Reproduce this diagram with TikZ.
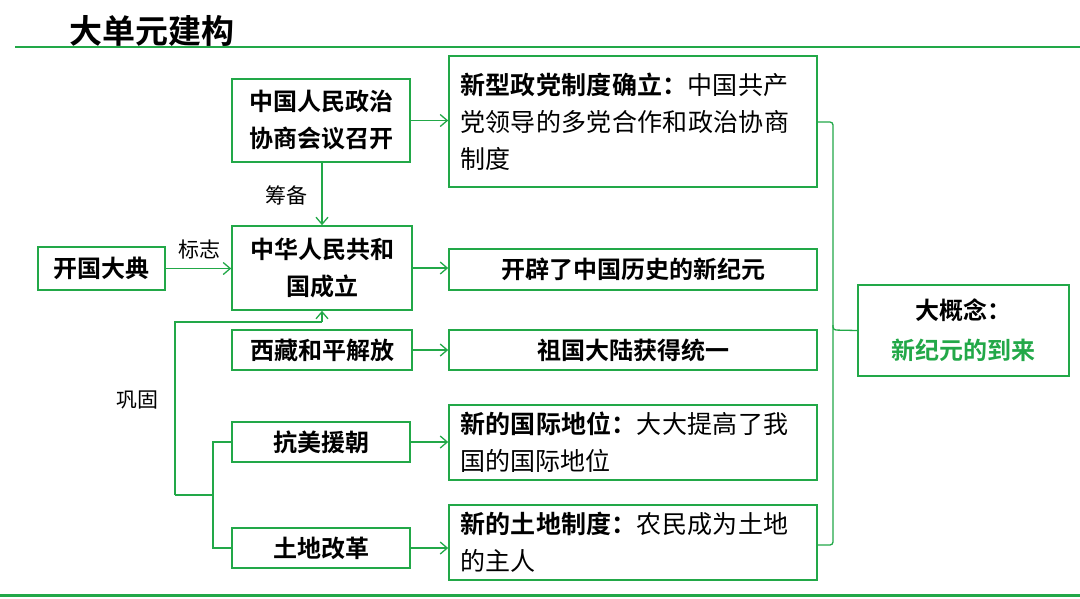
\documentclass[tikz,border=0pt]{standalone}
\usepackage{fontspec}
\usetikzlibrary{arrows.meta}
\XeTeXlinebreaklocale "zh"
\XeTeXlinebreakskip=0pt plus 1pt
\newfontfamily\cjk{Noto Sans CJK SC}
\newfontfamily\cjkb{Noto Sans CJK SC Bold}
\definecolor{gr}{RGB}{34,168,72}
\begin{document}
\begin{tikzpicture}[x=1pt,y=-1pt,
  bx/.style={draw=gr,line width=1.6pt,font=\fontsize{24}{37}\cjkb,align=center,inner sep=0pt},
  rb/.style={draw=gr,line width=1.6pt,font=\fontsize{25}{37}\cjk,align=left,inner sep=0pt,text width=346pt},
  ln/.style={draw=gr,line width=1.3pt},
  ar/.style={ln,-{Straight Barb[length=7pt,width=12pt]}},
  lab/.style={font=\fontsize{21}{24}\cjk}]
\useasboundingbox (0,0) rectangle (1080,598);
\node[font=\fontsize{33}{36}\cjkb,anchor=west] (title) at (66,31) {大单元建构};
\draw[gr,line width=1.5pt] (15,47) -- (1080,47);
\draw[gr,line width=3pt] (0,595) -- (1080,595);
% left boxes
\node[bx,minimum width=127pt,minimum height=43pt] (kg) at (101.5,268.5) {开国大典};
\node[bx,minimum width=178pt,minimum height=83pt] (zx) at (321,120.5) {中国人民政治\\协商会议召开};
\node[bx,minimum width=180pt,minimum height=84pt] (zh) at (322,268) {中华人民共和\\国成立};
\node[bx,minimum width=180pt,minimum height=40pt] (xz) at (322,350) {西藏和平解放};
\node[bx,minimum width=178pt,minimum height=40pt] (km) at (321,442) {抗美援朝};
\node[bx,minimum width=178pt,minimum height=40pt] (td) at (321,548) {土地改革};
% right boxes
\node[rb,minimum width=368pt,minimum height=131pt] (r1) at (633,121.5) {{\cjkb 新型政党制度确立：}中国共产党领导的多党合作和政治协商制度};
\node[bx,minimum width=368pt,minimum height=41pt] (r2) at (633,269.5) {开辟了中国历史的新纪元};
\node[bx,minimum width=368pt,minimum height=40pt] (r3) at (633,350) {祖国大陆获得统一};
\node[rb,minimum width=368pt,minimum height=75pt] (r4) at (633,442.5) {{\cjkb 新的国际地位：}大大提高了我国的国际地位};
\node[rb,minimum width=368pt,minimum height=75pt] (r5) at (633,542.5) {{\cjkb 新的土地制度：}农民成为土地的主人};
\node[bx,minimum width=211pt,minimum height=91pt,font=\fontsize{24}{40}\cjkb] (dg) at (963.5,330.5) {大概念：\\\textcolor{gr}{新纪元的到来}};
% connectors
\draw[ar] (kg) -- (zh.west |- kg);
\node[lab] (bz) at (199,250) {标志};
\draw[ar] (zx.south -| zh.north) -- (zh.north);
\node[lab] (cb) at (286,195) {筹备};
\foreach \a/\b in {zx/r1,zh/r2,xz/r3,km/r4,td/r5}{\draw[ar] (\a.east) -- (\b.west |- \a.east);}
\coordinate (g1) at (175,322);
\coordinate (g2) at (175,495);
\coordinate (g3) at (213,495);
\draw[ln] (g2) -- (g1) -- (322,322);
\draw[ar] (322,322) -- (zh.south);
\draw[ln] (g2) -- (g3);
\draw[ln] (km.west) -- (213,442) -- (213,548) -- (td.west);
\node[lab] (gg) at (137,400) {巩固};
% brace
\draw[ln,rounded corners=3pt] (r1.east |- 0,122) -- (833,122) -- (833,330) -- (dg.west);
\draw[ln,rounded corners=3pt] (833,325) -- (833,545) -- (817,545);
\end{tikzpicture}
\end{document}
